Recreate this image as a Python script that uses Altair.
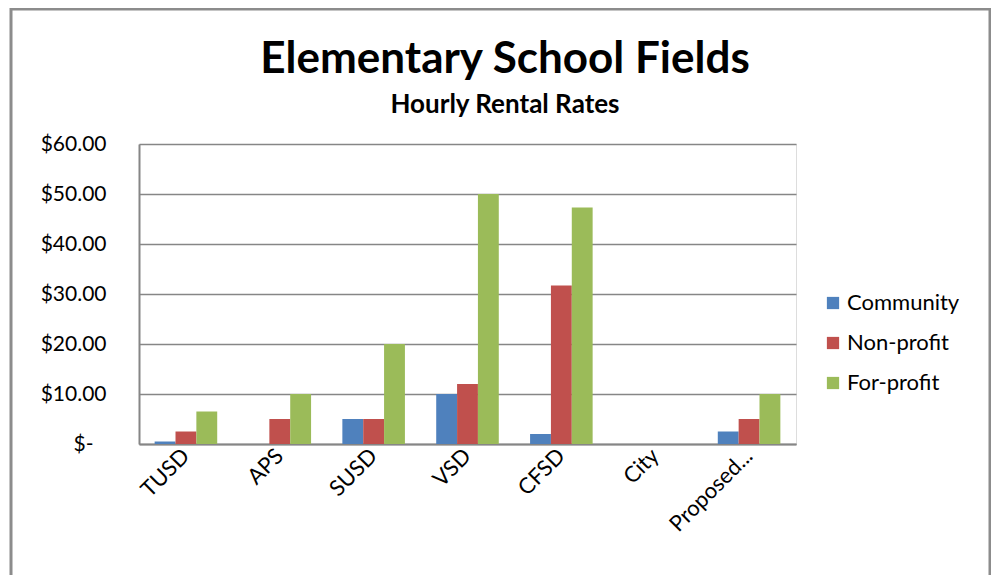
import altair as alt
import pandas as pd

districts = ["TUSD", "APS", "SUSD", "VSD", "CFSD", "City", "Proposed..."]
series = ["Community", "Non-profit", "For-profit"]
community = [0.5, 0, 5, 10, 2, 0, 2.5]
nonprofit = [2.5, 5, 5, 12, 31.7, 0, 5]
forprofit = [6.5, 10, 20, 50, 47.3, 0, 10]
colors = ["#4F81BD", "#C0504D", "#9BBB59"]
y_ticks = [0, 10, 20, 30, 40, 50, 60]
title_text = "Elementary School Fields"
subtitle_text = "Hourly Rental Rates"

rows = []
for s, vals in zip(series, [community, nonprofit, forprofit]):
    for d, v in zip(districts, vals):
        rows.append({"District": d, "Type": s, "Rate": v})
df = pd.DataFrame(rows)

FONT = "Lato"

bars = alt.Chart(df).mark_bar().encode(
    x=alt.X("District:N", sort=districts,
            scale=alt.Scale(paddingInner=1/3, paddingOuter=1/6),
            axis=alt.Axis(title=None, labelAngle=-45, labelAlign="right",
                          labelBaseline="middle", labelFontSize=22,
                          labelFont=FONT, labelColor="#000000",
                          ticks=False, domainColor="#868686",
                          domainWidth=2, labelPadding=8, grid=False)),
    xOffset=alt.XOffset("Type:N", sort=series,
                        scale=alt.Scale(paddingInner=0, paddingOuter=0)),
    y=alt.Y("Rate:Q", scale=alt.Scale(domain=[0, 60], nice=False),
            axis=alt.Axis(title=None, values=y_ticks, labelFontSize=21,
                          labelFont=FONT, labelColor="#000000",
                          labelExpr="datum.value == 0 ? '$-' : '$' + format(datum.value, '.2f')",
                          labelPadding={"condition": {"test": "datum.value == 0", "value": 46}, "value": 33},
                          ticks=False,
                          domainColor="#868686", domainWidth=2,
                          gridColor="#868686", gridWidth=1.5)),
    color=alt.Color("Type:N", sort=series,
                    scale=alt.Scale(domain=series, range=colors),
                    legend=alt.Legend(title=None, orient="none",
                                      legendX=683, legendY=148,
                                      symbolType="square", symbolSize=150,
                                      symbolStrokeWidth=0,
                                      labelFontSize=22, labelFont=FONT,
                                      labelColor="#000000", rowPadding=18,
                                      labelOffset=3)),
)

frame = alt.Chart(pd.DataFrame({"k": [0]})).mark_rect(
    fill=None, stroke="#8c8c8c", strokeWidth=3
).encode(
    x=alt.value(-128), x2=alt.value(851),
    y=alt.value(-135), y2=alt.value(620),
)

title = alt.Chart(pd.DataFrame({"t": [title_text]})).mark_text(
    font=FONT, fontSize=44, fontWeight="bold", color="#000000",
    align="center", baseline="alphabetic"
).encode(text="t:N", x=alt.value(366), y=alt.value(-71))

subtitle = alt.Chart(pd.DataFrame({"t": [subtitle_text]})).mark_text(
    font=FONT, fontSize=26, fontWeight="bold", color="#000000",
    align="center", baseline="alphabetic"
).encode(text="t:N", x=alt.value(366), y=alt.value(-31))

chart = alt.layer(frame, bars, title, subtitle).properties(
    width=657, height=300,
    autosize=alt.AutoSizeParams(type="none"),
    padding={"left": 131, "top": 136, "right": 195, "bottom": 131},
).configure_view(stroke=None).configure(background="white")

chart.save("out.html", embed_options={"renderer": "svg", "actions": False})
